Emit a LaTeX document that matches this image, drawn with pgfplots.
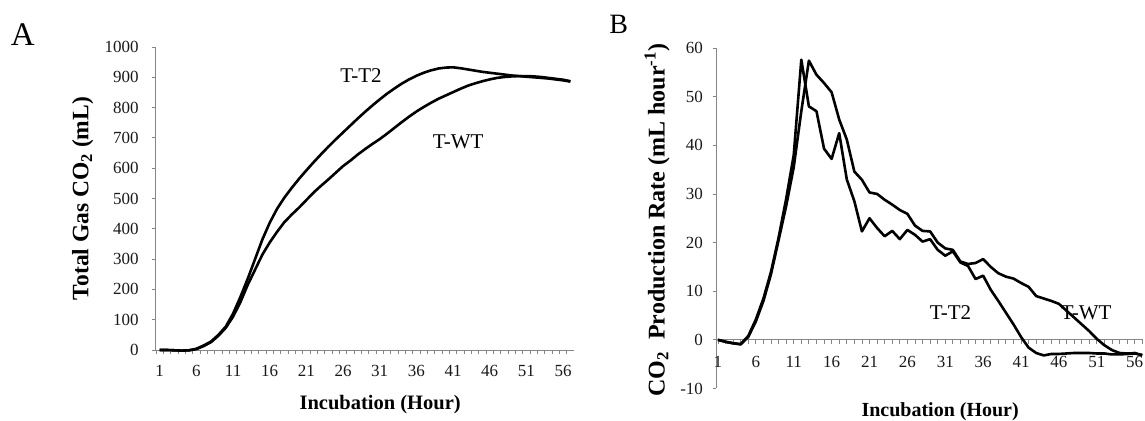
\documentclass[border=0pt]{standalone}
\usepackage{fontspec}
\setmainfont{Liberation Serif}
\usepackage{pgfplots}
\pgfplotsset{compat=1.18}
\definecolor{axgray}{RGB}{134,134,134}

\newcommand{\tickfont}{\fontsize{17bp}{20bp}\selectfont}
\newcommand{\notefont}{\fontsize{21bp}{24bp}\selectfont}

\pgfplotsset{
  panel/.style={
    scale only axis,
    axis y line*=left,
    axis line style={axgray, line width=1bp},
    tick align=outside,
    major tick length=3.5bp,
    minor tick length=4bp,
    major x tick style={draw=none},
    minor x tick style={axgray, line width=0.8bp},
    ytick style={axgray, line width=0.8bp},
    xtick={1,6,...,56},
    every tick label/.append style={font=\tickfont, text=black!90},
    /pgf/number format/assume math mode=true,
    /pgf/number format/set thousands separator={},
    hide obscured x ticks=false,
    hide obscured y ticks=false,
    clip=false,
  },
  curve/.style={black, line width=2.6bp, line join=round, mark=none},
}

\begin{document}
\begin{tikzpicture}
\useasboundingbox (0,0) rectangle (1145bp,421bp);

% ---------- panel A ----------
\begin{axis}[panel,
  at={(155.7bp,71bp)}, anchor=south west,
  width=418bp, height=303bp,
  axis x line*=bottom,
  xmin=0.45, xmax=57.45, ymin=0, ymax=1000,
  ytick={0,100,...,1000},
  minor xtick={0.5,1.5,...,57.5},
  yticklabel style={font=\tickfont, xshift=-10bp},
  xticklabel style={font=\tickfont, yshift=-8bp},
  xlabel={\textbf{Incubation (Hour)}},
  ylabel={\textbf{Total Gas CO\textsubscript{2} (mL)}},
  every axis x label/.style={at={(axis description cs:0.537,-0.1815)}, anchor=center, font=\fontsize{20.5bp}{24bp}\selectfont},
  every axis y label/.style={at={(axis description cs:-0.1746,0.5)}, rotate=90, anchor=center, font=\fontsize{23.5bp}{27bp}\selectfont},
]
% T-T2
\addplot[curve] coordinates {
(1,0) (2,0) (3,-1) (4,-2) (5,-1) (6,4) (7,15) (8,28) (9,50) (10,77)
(11,120) (12,175) (13,235) (14,300) (15,365) (16,420) (17,466) (18,503) (19,535) (20,565)
(21,593) (22,620) (23,646) (24,671) (25,695) (26,718) (27,741) (28,764) (29,786) (30,807)
(31,827) (32,846) (33,863) (34,879) (35,893) (36,905) (37,915) (38,923) (39,929) (40,932)
(41,933) (42,930) (43,926) (44,922) (45,918) (46,915) (47,912) (48,909) (49,906) (50,904)
(51,902) (52,900) (53,898) (54,896) (55,893) (56,890) (57,886)
};
% T-WT
\addplot[curve] coordinates {
(1,0) (2,0) (3,-1) (4,-2) (5,-1) (6,3) (7,13) (8,26) (9,47) (10,73)
(11,110) (12,158) (13,215) (14,265) (15,315) (16,355) (17,390) (18,422) (19,447) (20,470)
(21,495) (22,520) (23,542) (24,563) (25,585) (26,607) (27,625) (28,645) (29,663) (30,680)
(31,696) (32,714) (33,733) (34,752) (35,770) (36,787) (37,802) (38,816) (39,829) (40,840)
(41,851) (42,862) (43,872) (44,880) (45,887) (46,893) (47,898) (48,901) (49,903) (50,904)
(51,904) (52,903) (53,901) (54,898) (55,895) (56,892) (57,887)
};
\node[font=\notefont] at (axis cs:28.45,907) {T-T2};
\node[font=\notefont] at (axis cs:41.7,687) {T-WT};
\node[font=\fontsize{33bp}{36bp}\selectfont] at (axis description cs:-0.318,1.0396) {A};
\end{axis}

% ---------- panel B ----------
\begin{axis}[panel,
  at={(716bp,32.5bp)}, anchor=south west,
  width=427bp, height=340.5bp,
  axis x line*=middle,
  xmin=0.74, xmax=57.1, ymin=-10, ymax=60,
  ytick={-10,0,...,60},
  minor xtick={1,...,57},
  yticklabel style={font=\tickfont, xshift=-6bp},
  xticklabel style={font=\tickfont, yshift=-9bp},
  xlabel={\textbf{Incubation (Hour)}},
  ylabel={\textbf{CO\textsubscript{2}\enspace Production Rate (mL hour\textsuperscript{-1})}},
  every axis x label/.style={at={(axis description cs:0.525,-0.068)}, anchor=center, font=\fontsize{20bp}{24bp}\selectfont},
  every axis y label/.style={at={(axis description cs:-0.138,0.494)}, rotate=90, anchor=center, font=\fontsize{24bp}{27bp}\selectfont},
]
% T-T2
\addplot[curve] coordinates {
(1,0) (2,-0.4) (3,-0.7) (4,-0.9) (5,0.8) (6,4.2) (7,8.5) (8,14) (9,21) (10,29)
(11,38) (12,57.6) (13,48) (14,47) (15,39.3) (16,37.2) (17,42.5) (18,33) (19,28.5) (20,22.3)
(21,25) (22,23) (23,21.3) (24,22.4) (25,20.7) (26,22.6) (27,21.6) (28,20.2) (29,20.7) (30,18.5)
(31,17.3) (32,18.2) (33,15.9) (34,15.2) (35,12.5) (36,13.2) (37,10.3) (38,8) (39,5.6) (40,3.2)
(41,0.6) (42,-1.6) (43,-2.7) (44,-3.2) (45,-2.9) (46,-2.9) (47,-2.8) (48,-2.7) (49,-2.7) (50,-2.7)
(51,-2.8) (52,-2.8) (53,-3) (54,-3) (55,-2.9) (56,-2.7) (57,-3.2)
};
% T-WT
\addplot[curve] coordinates {
(1,0) (2,-0.4) (3,-0.7) (4,-0.9) (5,0.6) (6,3.8) (7,8) (8,13.5) (9,20.5) (10,27.5)
(11,35.5) (12,47) (13,57.4) (14,54.5) (15,52.8) (16,50.9) (17,45.3) (18,41.2) (19,34.6) (20,32.9)
(21,30.3) (22,30) (23,28.8) (24,27.8) (25,26.7) (26,25.9) (27,23.5) (28,22.4) (29,22.3) (30,20)
(31,18.8) (32,18.5) (33,16.1) (34,15.6) (35,15.8) (36,16.6) (37,15) (38,13.7) (39,13) (40,12.6)
(41,11.7) (42,10.9) (43,9) (44,8.5) (45,8) (46,7.4) (47,6) (48,4.6) (49,3.2) (50,1.8)
(51,0.2) (52,-1.1) (53,-2.1) (54,-2.7) (55,-2.8) (56,-2.8) (57,-3.1)
};
\node[font=\notefont] at (axis cs:31.7,5.6) {T-T2};
\node[font=\notefont] at (axis cs:49.6,5.6) {T-WT};
\node[font=\fontsize{28bp}{31bp}\selectfont] at (axis description cs:-0.228,1.07) {B};
\end{axis}
\end{tikzpicture}
\end{document}
